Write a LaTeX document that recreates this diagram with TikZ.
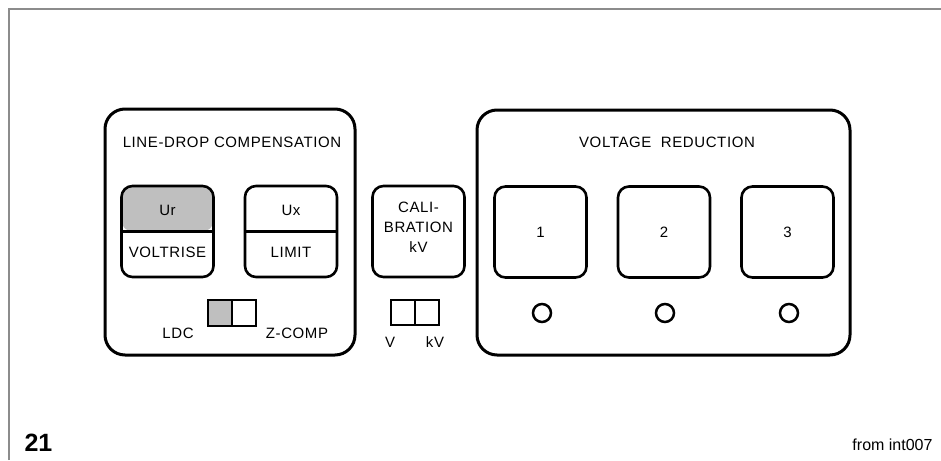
\documentclass[tikz,border=0pt]{standalone}
\usepackage{fontspec}
\setmainfont{Liberation Sans}
\usetikzlibrary{positioning}
\definecolor{lampgray}{gray}{0.75}
\definecolor{framegray}{gray}{0.55}

\begin{document}
\begin{tikzpicture}[x=1pt,y=-1pt,
  panel/.style={draw, line width=3pt, rounded corners=20pt, inner sep=0pt, outer sep=0pt},
  btn/.style={draw, line width=2.6pt, rounded corners=11pt, minimum width=92pt, minimum height=91pt, inner sep=0pt, outer sep=0pt},
  swbox/.style={draw, line width=2pt, minimum width=24pt, minimum height=26pt, inner sep=0pt, outer sep=0pt},
  lamp/.style={draw, circle, line width=2.5pt, minimum size=18pt, inner sep=0pt},
  txt/.style={font=\fontsize{15}{20}\selectfont\addfontfeature{LetterSpace=4}, inner sep=0pt}]
	\useasboundingbox (0,0) rectangle (941,460);
	\draw[framegray, line width=2pt] (9,460) -- (9,9) -- (941,9);

	% line-drop compensation
	\node[panel, minimum width=250pt, minimum height=246pt] (ldcpanel) at (230,232) {};
	\node[txt] (ldctitle) at (232,142) {LINE-DROP COMPENSATION};
	\node[btn, path picture={\fill[lampgray] (path picture bounding box.north west) rectangle (path picture bounding box.east);}] (ur) at (167.5,231.5) {};
	\draw[line width=2.6pt] (ur.west) -- (ur.east);
	\node[txt] (urtext) at (167.5,210) {Ur};
	\node[txt] (voltrise) at (167.5,252) {VOLTRISE};
	\node[btn] (ux) at (291,231.5) {};
	\draw[line width=2.6pt] (ux.west) -- (ux.east);
	\node[txt] (uxtext) at (291,210) {Ux};
	\node[txt] (limit) at (291,252) {LIMIT};
	\node[swbox, fill=lampgray] (ldcsw) at (220,313) {};
	\node[swbox, right=0pt of ldcsw] (zcompsw) {};
	\node[txt] (ldc) at (178,333) {LDC};
	\node[txt] (zcomp) at (297,333) {Z-COMP};

	% calibration
	\node[btn] (calib) at (418.5,231.5) {};
	\node[txt, align=center] (caltext) at (418.5,227) {CALI-\\BRATION\\kV};
	\node[swbox, minimum height=25pt] (vsw) at (403,312.5) {};
	\node[swbox, minimum height=25pt, right=0pt of vsw] (kvsw) {};
	\node[txt] (vtext) at (390,342) {V};
	\node[txt] (kvtext) at (435,342) {kV};

	% voltage reduction
	\node[panel, minimum width=373pt, minimum height=245pt] (vrpanel) at (663.5,232.5) {};
	\node[txt] (vrtitle) at (667,142) {VOLTAGE\ \ REDUCTION};
	\node[btn] (vr1) at (540.5,232) {};
	\node[btn] (vr2) at (664,232) {};
	\node[btn] (vr3) at (787.5,232) {};
	\node[txt] at (vr1) {1};
	\node[txt] at (vr2) {2};
	\node[txt] at (vr3) {3};
	\node[lamp] (lamp1) at (542,313) {};
	\node[lamp] (lamp2) at (665,313) {};
	\node[lamp] (lamp3) at (789,313) {};

	\node[font=\fontsize{25}{25}\selectfont\bfseries, inner sep=0pt] (fignum) at (38.5,443) {21};
	\node[font=\fontsize{16}{16}\selectfont, inner sep=0pt] (source) at (892.5,445) {from int007};
\end{tikzpicture}
\end{document}
